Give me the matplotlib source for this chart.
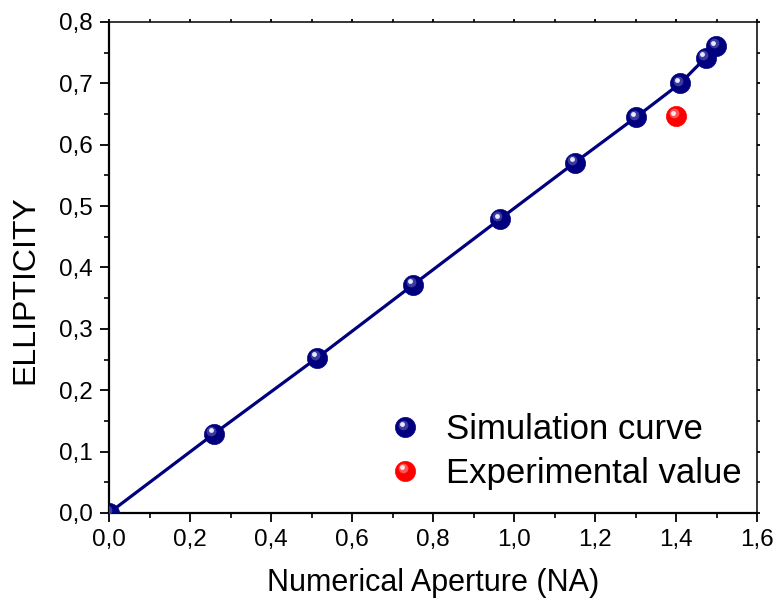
import numpy as np
import matplotlib
matplotlib.use("Agg")
import matplotlib.pyplot as plt
import matplotlib.transforms as mtransforms
from matplotlib.lines import Line2D
from matplotlib.legend_handler import HandlerLine2D
from matplotlib.ticker import MultipleLocator, FuncFormatter

# simulation curve (NA vs ellipticity)
na_sim = [0.0, 0.259, 0.514, 0.751, 0.965, 1.150, 1.301, 1.410, 1.473, 1.499]
ell_sim = [0.0, 0.129, 0.253, 0.372, 0.479, 0.571, 0.645, 0.700, 0.742, 0.761]
# measured point
na_exp = [1.40]
ell_exp = [0.647]

navy = "#00007f"
red = "#ff0000"

plt.rcParams["font.family"] = ["Liberation Sans", "DejaVu Sans"]

fig = plt.figure(figsize=(7.79, 6.04), dpi=100)
ax = fig.add_axes([0.140, 0.1507, 0.832, 0.8129])


def glint(dx, dy):
    return ax.transData + mtransforms.ScaledTranslation(dx / 72, dy / 72, fig.dpi_scale_trans)


def sphere(x, y, base, mid, shine, label):
    h, = ax.plot(x, y, "o", ms=14.5, mfc=base, mec=base, mew=0.5, ls="none",
                 label=label, zorder=4, clip_on=True)
    ax.plot(x, y, "o", ms=7, mfc=mid, mec="none", ls="none", alpha=0.8,
            transform=glint(-1.8, 1.8), zorder=5)
    ax.plot(x, y, "o", ms=3.5, mfc=shine, mec="none", ls="none",
            transform=glint(-2.4, 2.4), zorder=6)
    return h


class SphereHandler(HandlerLine2D):
    def __init__(self, mid, shine, **kw):
        super().__init__(**kw)
        self.mid = mid
        self.shine = shine

    def create_artists(self, legend, orig_handle, xdescent, ydescent,
                       width, height, fontsize, trans):
        arts = super().create_artists(legend, orig_handle, xdescent, ydescent,
                                      width, height, fontsize, trans)
        x = 0.5 * width - xdescent
        y = (height - ydescent) / 2
        extra = []
        for ms, col, off, a in [(7, self.mid, 1.8, 0.8), (3.5, self.shine, 2.4, 1.0)]:
            t = trans + mtransforms.ScaledTranslation(-off / 72, off / 72,
                                                      legend.figure.dpi_scale_trans)
            extra.append(Line2D([x], [y], marker="o", ms=ms, mfc=col, mec="none",
                                ls="none", alpha=a, transform=t))
        return arts + extra


ax.plot(na_sim, ell_sim, "-", color=navy, lw=2.3, zorder=3)
h1 = sphere(na_sim, ell_sim, navy, "#4a4aa8", "#e8e8ff", "Simulation curve")
h2 = sphere(na_exp, ell_exp, red, "#ff6a6a", "#ffe6e6", "Experimental value")

ax.set_xlim(0, 1.6)
ax.set_ylim(0, 0.8)
ax.xaxis.set_major_locator(MultipleLocator(0.2))
ax.xaxis.set_minor_locator(MultipleLocator(0.1))
ax.yaxis.set_major_locator(MultipleLocator(0.1))
ax.yaxis.set_minor_locator(MultipleLocator(0.05))
comma = FuncFormatter(lambda v, p: ("%.1f" % v).replace(".", ","))
ax.xaxis.set_major_formatter(comma)
ax.yaxis.set_major_formatter(comma)

ax.tick_params(which="major", direction="out", length=6.5, width=1.3,
               labelsize=17.5, pad=5, colors="black")
ax.tick_params(which="minor", direction="out", length=3.5, width=1.2)
ax.tick_params(which="both", top=True, right=True)
for sp in ["left", "bottom"]:
    ax.spines[sp].set_linewidth(1.6)
for sp in ["top", "right"]:
    ax.spines[sp].set_linewidth(1.1)
# top / right ticks are short
for t in ax.xaxis.get_major_ticks() + ax.xaxis.get_minor_ticks():
    t.tick2line.set_markersize(2.5)
for t in ax.yaxis.get_major_ticks() + ax.yaxis.get_minor_ticks():
    t.tick2line.set_markersize(2.5)

ax.set_xlabel("Numerical Aperture (NA)", fontsize=22, labelpad=12.5)
ax.set_ylabel("ELLIPTICITY", fontsize=23)
ax.yaxis.set_label_coords(-0.106, 0.454)

leg = ax.legend(handles=[h1, h2], loc="center right",
                bbox_to_anchor=(0.976, 0.125), frameon=False,
                fontsize=25, numpoints=1, handlelength=0.9, handletextpad=0.72,
                labelspacing=0.3, borderaxespad=0, borderpad=0,
                handler_map={h1: SphereHandler("#4a4aa8", "#e8e8ff"),
                             h2: SphereHandler("#ff6a6a", "#ffe6e6")})
for lh in leg.legend_handles:
    lh.set_markersize(14.5)

fig.savefig("out.png", dpi=100)
